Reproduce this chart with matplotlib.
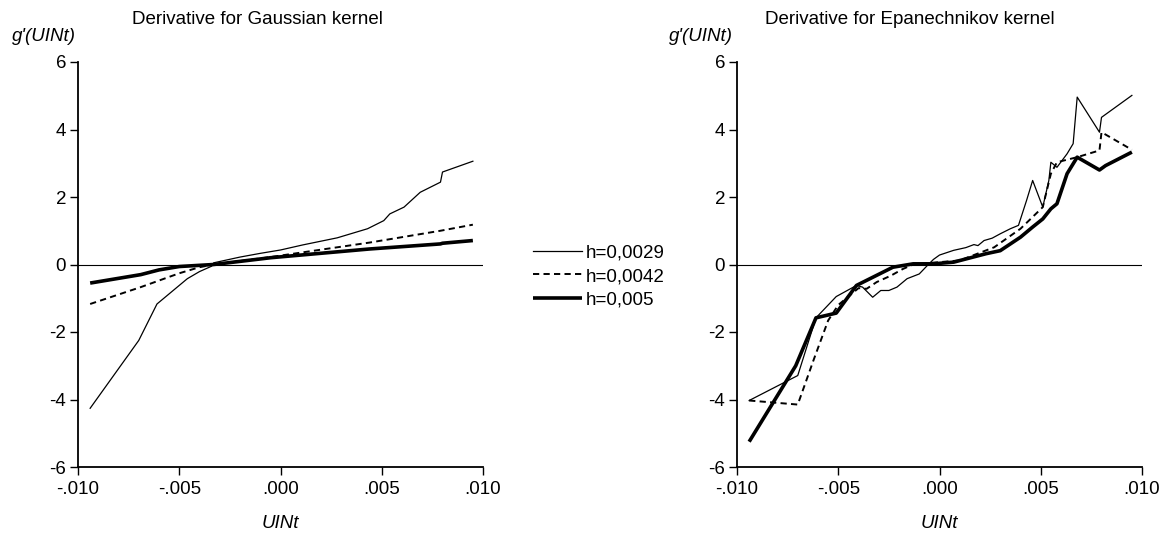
import matplotlib
matplotlib.use("Agg")
import matplotlib.pyplot as plt
from matplotlib.ticker import FuncFormatter, FixedLocator
from matplotlib.lines import Line2D

plt.rcParams['font.family'] = ['Liberation Sans', 'DejaVu Sans']
plt.rcParams['axes.unicode_minus'] = False

# ---------------- data ----------------
# Gaussian kernel
gauss_x_h29 = [-0.0094, -0.0070, -0.0061, -0.0050, -0.0046, -0.0040, -0.0034, -0.0033,
               -0.0020, -0.0010, 0.0000, 0.0011, 0.0028, 0.0043, 0.0051, 0.0054,
               0.0061, 0.0069, 0.0079, 0.0080, 0.0095]
gauss_y_h29 = [-4.26, -2.25, -1.17, -0.62, -0.42, -0.21, -0.05, 0.05,
               0.22, 0.33, 0.43, 0.58, 0.79, 1.06, 1.30, 1.50,
               1.70, 2.14, 2.44, 2.74, 3.06]
gauss_x_h42 = [-0.0094, -0.0069, -0.0050, -0.0040, -0.0033, -0.0005, 0.0044, 0.0079, 0.0095]
gauss_y_h42 = [-1.17, -0.67, -0.26, -0.08, 0.00, 0.22, 0.65, 1.00, 1.18]
gauss_x_h50 = [-0.0094, -0.0069, -0.0060, -0.0050, -0.0033, -0.0005, 0.0044, 0.0079, 0.0080, 0.0095]
gauss_y_h50 = [-0.55, -0.30, -0.16, -0.06, 0.00, 0.20, 0.46, 0.61, 0.63, 0.71]

# Epanechnikov kernel
epan_x_h29 = [-0.0094, -0.0070, -0.0061, -0.0051, -0.0041, -0.0038, -0.0033, -0.0029,
              -0.0025, -0.0021, -0.0016, -0.0010, -0.0006, -0.0003, 0.0000,
              0.0007, 0.0013, 0.0017, 0.0019, 0.0022, 0.0026, 0.0030, 0.0035, 0.0039, 0.0043,
              0.0046, 0.0051, 0.0054, 0.0055, 0.0058, 0.0063, 0.0066, 0.0068,
              0.0079, 0.0080, 0.0095]
epan_y_h29 = [-4.03, -3.29, -1.58, -0.95, -0.62, -0.67, -0.97, -0.77,
              -0.77, -0.67, -0.42, -0.28, -0.03, 0.15, 0.28,
              0.42, 0.50, 0.59, 0.56, 0.71, 0.78, 0.91, 1.06, 1.16, 1.90,
              2.49, 1.70, 2.49, 3.03, 2.88, 3.28, 3.58, 4.96,
              3.92, 4.36, 5.01]
epan_x_h42 = [-0.0094, -0.0070, -0.0062, -0.0055, -0.0050, -0.0040, -0.0036, -0.0031,
              -0.0024, -0.0018, -0.0013, -0.0010, 0.0010, 0.0027, 0.0040, 0.0051,
              0.0055, 0.0058, 0.0068, 0.0079, 0.0080, 0.0095]
epan_y_h42 = [-4.03, -4.15, -2.80, -1.66, -1.20, -0.70, -0.72, -0.52,
              -0.33, -0.13, 0.00, 0.02, 0.12, 0.51, 1.06, 1.70,
              2.69, 3.03, 3.18, 3.38, 3.92, 3.40]
epan_x_h50 = [-0.0094, -0.0071, -0.0061, -0.0051, -0.0041, -0.0033, -0.0023, -0.0013,
              -0.0003, 0.0007, 0.0023, 0.0030, 0.0040, 0.0046, 0.0051, 0.0055,
              0.0058, 0.0063, 0.0068, 0.0079, 0.0082, 0.0095]
epan_y_h50 = [-5.25, -3.00, -1.58, -1.44, -0.62, -0.38, -0.08, 0.02,
              0.02, 0.07, 0.32, 0.41, 0.81, 1.11, 1.35, 1.65,
              1.80, 2.69, 3.18, 2.80, 2.93, 3.33]

labels = ["h=0,0029", "h=0,0042", "h=0,005"]
titles = ["Derivative for Gaussian kernel", "Derivative for Epanechnikov kernel"]
y_ticks = [-6, -4, -2, 0, 2, 4, 6]
x_ticks = [-0.010, -0.005, 0.000, 0.005, 0.010]

# ---------------- figure ----------------
W, H = 1171, 539
fig = plt.figure(figsize=(W / 100, H / 100), dpi=100)
FS = 13.5

styles = [dict(color='black', lw=0.9, ls='-'),
          dict(color='black', lw=1.4, ls=(0, (3.2, 2.2))),
          dict(color='black', lw=2.6, ls='-', solid_capstyle='butt')]

panels = [
    (78, [(gauss_x_h29, gauss_y_h29), (gauss_x_h42, gauss_y_h42), (gauss_x_h50, gauss_y_h50)]),
    (737, [(epan_x_h29, epan_y_h29), (epan_x_h42, epan_y_h42), (epan_x_h50, epan_y_h50)]),
]

fmt = FuncFormatter(lambda v, p: f"{v:.3f}".replace("0.", ".", 1))

for i, (left_px, series) in enumerate(panels):
    ax = fig.add_axes([left_px / W, 1 - 467 / H, 405 / W, 405 / H])
    ax.set_xlim(-0.010, 0.010)
    ax.set_ylim(-6, 6)
    ax.axhline(0, color='black', lw=0.8, zorder=1)
    for (xs, ys), st in zip(series, styles):
        ax.plot(xs, ys, zorder=2, **st)
    for s in ['top', 'right']:
        ax.spines[s].set_visible(False)
    for s in ['left', 'bottom']:
        ax.spines[s].set_linewidth(1.3)
    ax.xaxis.set_major_locator(FixedLocator(x_ticks))
    ax.yaxis.set_major_locator(FixedLocator(y_ticks))
    ax.xaxis.set_major_formatter(fmt)
    ax.tick_params(axis='both', direction='out', length=5.5, width=1.0,
                   labelsize=FS, pad=3)
    ax.tick_params(axis='x', pad=4.5)
    ax.set_xlabel("UINt", fontsize=FS, style='italic', labelpad=12)

fig.text(257 / W, 1 - 19 / H, titles[0], fontsize=FS, ha='center', va='center')
fig.text(910 / W, 1 - 19 / H, titles[1], fontsize=FS, ha='center', va='center')
fig.text(12 / W, 1 - 36 / H, "g'(UINt)", fontsize=FS, style='italic', ha='left', va='center')
fig.text(669 / W, 1 - 36 / H, "g'(UINt)", fontsize=FS, style='italic', ha='left', va='center')

handles = [Line2D([], [], **st) for st in styles]
fig.legend(handles, labels, loc='upper left', bbox_to_anchor=(533 / W, 1 - 244 / H),
           frameon=False, fontsize=FS, handlelength=2.6, handletextpad=0.2,
           labelspacing=0.36, borderaxespad=0, borderpad=0)

fig.savefig("out.png", dpi=100)
